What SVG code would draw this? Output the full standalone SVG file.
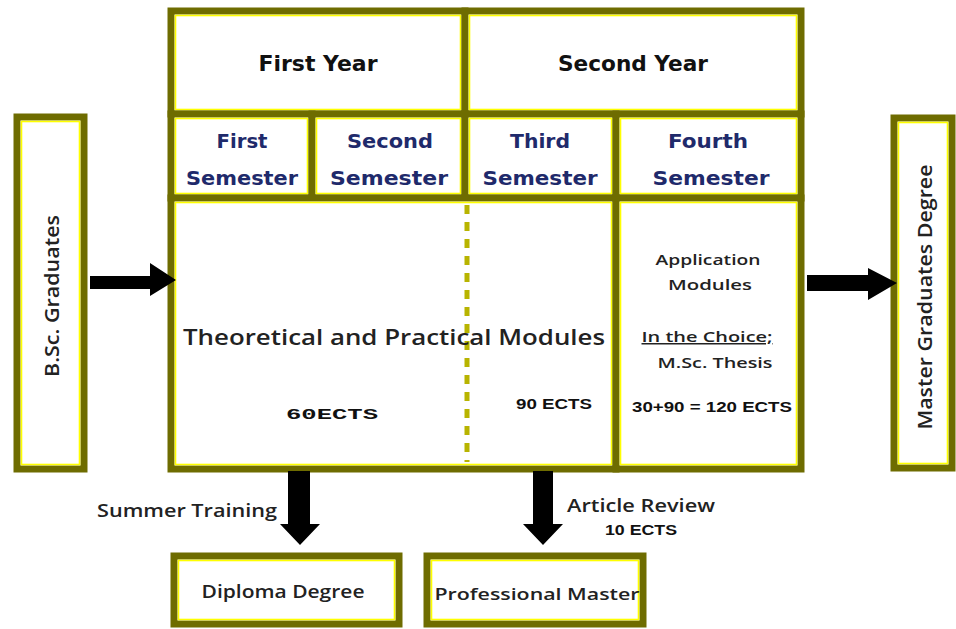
<svg xmlns="http://www.w3.org/2000/svg" width="956" height="629" viewBox="0 0 956 629">
<defs>
<style>
.cell{fill:#fff;stroke:#6e6c00;stroke-width:7}
.hl{fill:none;stroke:#ffff00;stroke-width:1.6}
.yr{font-family:"DejaVu Sans",sans-serif;font-weight:bold;font-size:22px;fill:#111;text-anchor:middle}
.sem{font-family:"DejaVu Sans",sans-serif;font-weight:bold;font-size:20px;fill:#1f2a6b;text-anchor:middle}
.txt{font-family:"Open Sans","DejaVu Sans",sans-serif;font-weight:600;fill:#222}
.bold{font-family:"Liberation Sans",sans-serif;font-weight:bold;fill:#111}
.arrow{fill:#000}
</style>
</defs>
<rect width="956" height="629" fill="#fff"/>

<g id="bsc">
<rect class="cell" x="17" y="117" width="67" height="352"/>
<rect class="hl" x="21.5" y="121.5" width="58" height="343"/>
<text class="txt" font-size="20" text-anchor="middle" transform="translate(59 296) rotate(-90)" textLength="162" lengthAdjust="spacingAndGlyphs">B.Sc. Graduates</text>
</g>

<g id="first-year">
<rect class="cell" x="171" y="11" width="294" height="103"/>
<rect class="hl" x="175.5" y="15.5" width="285" height="94"/>
<text class="yr" x="318" y="71" textLength="119" lengthAdjust="spacingAndGlyphs">First Year</text>
</g>
<g id="second-year">
<rect class="cell" x="465" y="11" width="336" height="103"/>
<rect class="hl" x="469.5" y="15.5" width="327" height="94"/>
<text class="yr" x="633" y="71" textLength="150" lengthAdjust="spacingAndGlyphs">Second Year</text>
</g>

<g id="sem1">
<rect class="cell" x="171" y="114" width="141" height="84"/>
<rect class="hl" x="175.5" y="118.5" width="132" height="75"/>
<text class="sem" x="242" y="148" textLength="51" lengthAdjust="spacingAndGlyphs">First</text>
<text class="sem" x="242" y="185" textLength="112" lengthAdjust="spacingAndGlyphs">Semester</text>
</g>
<g id="sem2">
<rect class="cell" x="312" y="114" width="153" height="84"/>
<rect class="hl" x="316.5" y="118.5" width="144" height="75"/>
<text class="sem" x="390" y="148" textLength="86" lengthAdjust="spacingAndGlyphs">Second</text>
<text class="sem" x="389" y="185" textLength="118" lengthAdjust="spacingAndGlyphs">Semester</text>
</g>
<g id="sem3">
<rect class="cell" x="465" y="114" width="151" height="84"/>
<rect class="hl" x="469.5" y="118.5" width="142" height="75"/>
<text class="sem" x="540" y="148" textLength="60" lengthAdjust="spacingAndGlyphs">Third</text>
<text class="sem" x="540" y="185" textLength="115" lengthAdjust="spacingAndGlyphs">Semester</text>
</g>
<g id="sem4">
<rect class="cell" x="616" y="114" width="185" height="84"/>
<rect class="hl" x="620.5" y="118.5" width="176" height="75"/>
<text class="sem" x="708" y="148" textLength="80" lengthAdjust="spacingAndGlyphs">Fourth</text>
<text class="sem" x="711" y="185" textLength="117" lengthAdjust="spacingAndGlyphs">Semester</text>
</g>

<g id="modules">
<rect class="cell" x="171" y="198" width="445" height="271"/>
<rect class="hl" x="175.5" y="202.5" width="436" height="262"/>
<line x1="467" y1="205" x2="467" y2="462" stroke="#b8b400" stroke-width="5" stroke-dasharray="9,8"/>
<text class="txt" x="394" y="345" font-size="21" text-anchor="middle" textLength="422" lengthAdjust="spacingAndGlyphs">Theoretical and Practical Modules</text>
<text x="332" y="419" font-family="Liberation Mono, monospace" font-weight="bold" font-size="15" fill="#111" text-anchor="middle" textLength="92" lengthAdjust="spacingAndGlyphs">60ECTS</text>
<text class="bold" x="554" y="409" font-size="14" text-anchor="middle" textLength="76" lengthAdjust="spacingAndGlyphs">90  ECTS</text>
</g>

<g id="application">
<rect class="cell" x="616" y="198" width="185" height="271"/>
<rect class="hl" x="620.5" y="202.5" width="176" height="262"/>
<text class="txt" x="708" y="265" font-size="15" text-anchor="middle" textLength="105" lengthAdjust="spacingAndGlyphs">Application</text>
<text class="txt" x="710" y="290" font-size="15" text-anchor="middle" textLength="84" lengthAdjust="spacingAndGlyphs">Modules</text>
<text class="txt" x="707" y="342" font-size="15" text-anchor="middle" text-decoration="underline" textLength="131" lengthAdjust="spacingAndGlyphs">In the Choice;</text>
<text class="txt" x="715" y="368" font-size="15" text-anchor="middle" textLength="115" lengthAdjust="spacingAndGlyphs">M.Sc. Thesis</text>
<text class="bold" x="712" y="412" font-size="15" text-anchor="middle" textLength="160" lengthAdjust="spacingAndGlyphs">30+90 = 120 ECTS</text>
</g>

<g id="master">
<rect class="cell" x="894" y="118" width="58" height="350"/>
<rect class="hl" x="898.5" y="122.5" width="49" height="341"/>
<text class="txt" font-size="20" text-anchor="middle" transform="translate(932 297) rotate(-90)" textLength="265" lengthAdjust="spacingAndGlyphs">Master Graduates  Degree</text>
</g>

<g id="diploma">
<rect class="cell" x="174" y="556" width="225" height="68"/>
<rect class="hl" x="178.5" y="560.5" width="216" height="59"/>
<text class="txt" x="283" y="598" font-size="18" text-anchor="middle" textLength="163" lengthAdjust="spacingAndGlyphs">Diploma Degree</text>
</g>

<g id="professional">
<rect class="cell" x="427" y="556" width="216" height="68"/>
<rect class="hl" x="431.5" y="560.5" width="207" height="59"/>
<text class="txt" x="537" y="600" font-size="16" text-anchor="middle" textLength="205" lengthAdjust="spacingAndGlyphs">Professional Master</text>
</g>

<g id="connectors">
<polygon class="arrow" points="90,276 150,276 150,263 176,280 150,296 150,289 90,289"/>
<polygon class="arrow" points="807,275 868,275 868,268 897,283 868,300 868,291 807,291"/>
<polygon class="arrow" points="288,471 310,471 310,524 320,524 300,545 280,524 288,524"/>
<polygon class="arrow" points="533,471 553,471 553,524 563,524 543,545 523,524 533,524"/>
<text class="txt" x="97" y="517" font-size="18" textLength="180" lengthAdjust="spacingAndGlyphs">Summer Training</text>
<text class="txt" x="567" y="512" font-size="18" textLength="148" lengthAdjust="spacingAndGlyphs">Article Review</text>
<text class="bold" x="641" y="535" font-size="14" text-anchor="middle" textLength="72" lengthAdjust="spacingAndGlyphs">10 ECTS</text>
</g>
</svg>
